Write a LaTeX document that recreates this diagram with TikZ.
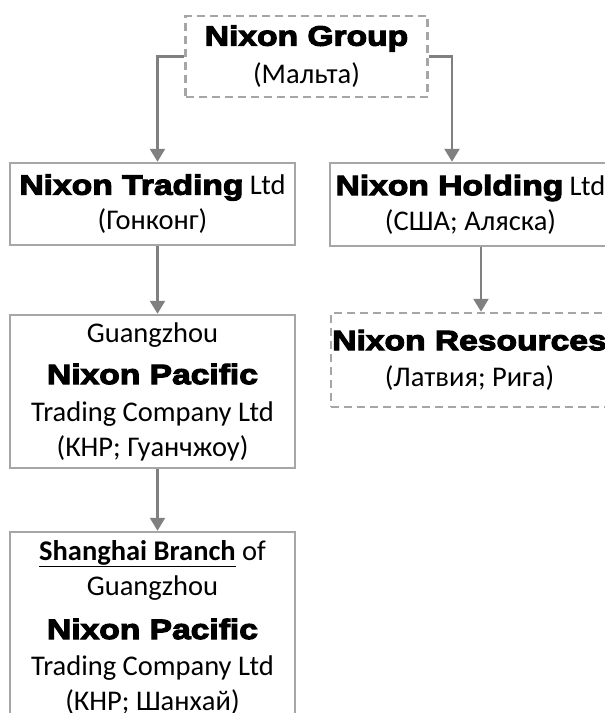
\documentclass[tikz,border=0pt]{standalone}
\usepackage{fontspec}
\usetikzlibrary{arrows.meta}
\setmainfont{Carlito}
\newfontfamily\heavyfont[FakeBold=4,FakeStretch=1.2]{Liberation Sans Bold}
\newcommand\nx[1]{{\heavyfont\fontsize{28}{30}\selectfont #1}}

\begin{document}
\begin{tikzpicture}[x=1pt, y=1pt,
    box/.style={rectangle, draw=black!35, line width=2.5pt, fill=white, align=center,
      inner sep=0pt, minimum width=285, font=\fontsize{28.5}{35}\selectfont},
    dbox/.style={box, dash pattern=on 8pt off 5pt},
    link/.style={draw=black!50, line width=2.5pt, -{Triangle[width=15pt,length=13pt]}}]
      \useasboundingbox (0,0) rectangle (605,-713);
      \draw
        (306.5,-56.5) node[dbox, minimum width=242, minimum height=81] (0){\nx{Nixon Group}\\[3pt](Мальта)}
        (152.5,-204) node[box, minimum height=82] (1){\nx{Nixon Trading} Ltd\\(Гонконг)}
        (470.5,-204.5) node[box, minimum width=281, minimum height=83] (2){\nx{Nixon Holding} Ltd\\(США; Аляска)}
        (469.5,-360) node[dbox, minimum width=277, minimum height=94] (5){\nx{Nixon Resources}\\[1pt](Латвия; Рига)}
        (152.5,-391.5) node[box, minimum height=153] (3){Guangzhou\\[7pt]\nx{Nixon Pacific}\\[2pt]Trading Company Ltd\\(КНР; Гуанчжоу)}
        (152.5,-627) node[box, minimum height=190] (4){\underline{\textbf{Shanghai Branch}} of\\Guangzhou\\[9pt]\nx{Nixon Pacific}\\[1pt]Trading Company Ltd\\(КНР; Шанхай)};
      \begin{scope}[link]
        \draw (0.west) -| ([xshift=5pt]1.north);
        \draw (0.east) -| ([xshift=-18.5pt]2.north);
        \draw ([xshift=10.5pt]2.south) -- ([xshift=11.5pt]5.north);
        \draw ([xshift=5pt]1.south) -- ([xshift=5pt]3.north);
        \draw ([xshift=5pt]3.south) -- ([xshift=5pt]4.north);
      \end{scope}
    \end{tikzpicture}
\end{document}
